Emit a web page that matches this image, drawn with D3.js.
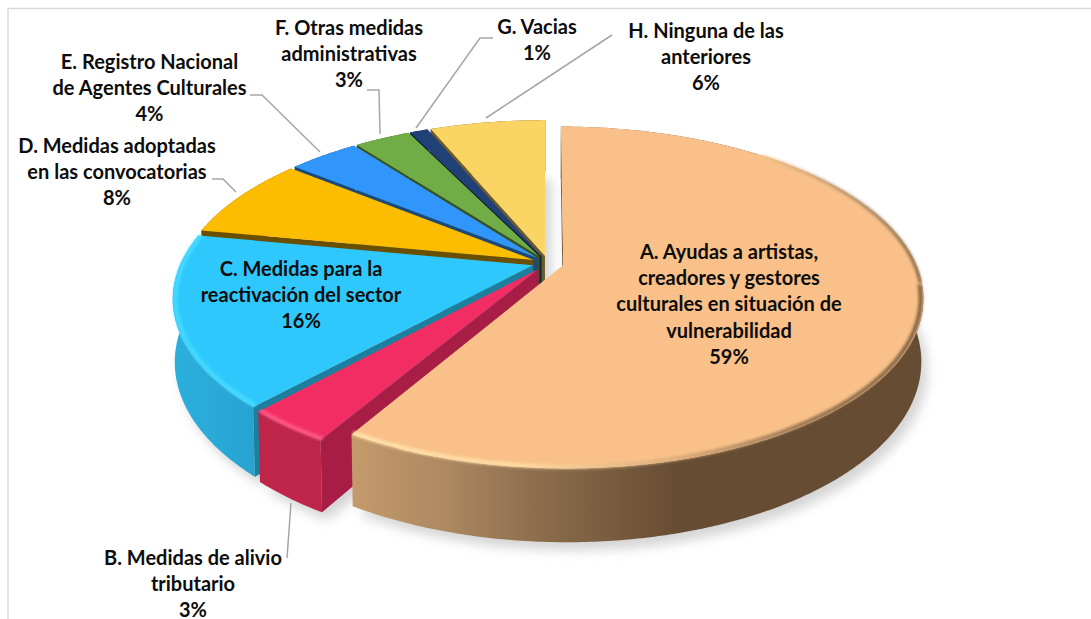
<!DOCTYPE html>
<html>
<head>
<meta charset="utf-8">
<script src="https://cdn.jsdelivr.net/npm/d3@7"></script>
<style>
  html, body { margin: 0; padding: 0; background: #fff; overflow: hidden; }
  text { font-family: Lato, "Open Sans", sans-serif; font-weight: 700; font-size: 20px; fill: #0d0d0d; text-anchor: middle; }
</style>
</head>
<body>
<div id="chart"></div>
<script>
    // category names, one array per wrapped label
    const categories = [
        ["A. Ayudas a artistas,", "creadores y gestores", "culturales en situación de", "vulnerabilidad"],
        ["B. Medidas de alivio", "tributario"],
        ["C. Medidas para la", "reactivación del sector"],
        ["D. Medidas adoptadas", "en las convocatorias"],
        ["E. Registro Nacional", "de Agentes Culturales"],
        ["F. Otras medidas", "administrativas"],
        ["G. Vacias"],
        ["H. Ninguna de las", "anteriores"]
    ];
    // estimated from the drawn slices, they round to the printed percentages
    const values = [58.5, 3.3, 16.2, 7.8, 3.85, 3.05, 1, 6.3];

    const topColors = ["#f9c189", "#f22d63", "#2fc8fd", "#fcbd00", "#3196fb", "#70ad47", "#1f4177", "#fbd563"];
    const cutColors = ["#7a5c3e", "#a81d45", "#1c7f9d", "#6b4f00", "#1b4a7a", "#37511f", "#101f3a", "#6b5a2a"];

    const labelX = [729, 193, 301, 117, 149.5, 349, 537, 706];
    const labelY = [252, 558, 269, 146, 62, 28, 27, 31];
    const lineGap = 26.2;

    const leaders = [
        [[287, 558], [291, 503]],
        [[212, 179], [223, 179], [236, 192]],
        [[250, 95], [262, 95], [320, 152]],
        [[367, 90], [379, 90], [380, 134]],
        [[493, 38], [480, 38], [416, 128]],
        [[612, 35], [486, 118]]
    ];

    const w = 1091;
    const h = 619;

    const cx = 548, cy = 263;
    const sx = 352, sy = 164, persp = 0.19, depth = 0.005, thick = 61, explode = 0.045;

    const svg = d3.select("#chart").append("svg")
        .attr("width", w)
        .attr("height", h);

    const defs = svg.append("defs");
    defs.append("filter").attr("id", "shadowBlur")
        .attr("x", "-10%").attr("y", "-10%").attr("width", "120%").attr("height", "120%")
        .append("feGaussianBlur").attr("stdDeviation", 6);
    defs.append("filter").attr("id", "rimBlur")
        .attr("x", "-5%").attr("y", "-5%").attr("width", "110%").attr("height", "110%")
        .append("feGaussianBlur").attr("stdDeviation", 1.6);

    function gradient(id, stops) {
        const g = defs.append("linearGradient").attr("id", id)
            .attr("gradientUnits", "userSpaceOnUse")
            .attr("x1", 0).attr("x2", w).attr("y1", 0).attr("y2", 0);
        stops.forEach(s => g.append("stop").attr("offset", s[0] / w).attr("stop-color", s[1]));
    }
    gradient("wall0", [[355, "#c49a6c"], [450, "#ac8760"], [530, "#8e6f4e"], [680, "#664c33"], [925, "#664c33"]]);
    gradient("wall1", [[255, "#bf2449"], [320, "#bf2449"], [335, "#a81d45"]]);
    gradient("wall2", [[170, "#2bb0dd"], [255, "#27a3d2"]]);
    gradient("rim0", [[355, "#ffe6ae"], [520, "#ffdca4"], [680, "#d8a878"], [800, "#8d6e4d"], [925, "#7a5c3e"]]);
    gradient("rim1", [[255, "#ff5a88"], [330, "#ff5a88"]]);
    gradient("rim2", [[170, "#46dcff"], [255, "#46dcff"]]);
    gradient("rimBack", [[760, "#f9c189"], [860, "#a98a68"], [925, "#7a5c3e"]]);

    function project(u, v, z) {
        const k = 1 - persp * v + depth * z;
        return [cx + sx * u / k, cy + (sy * v + thick * z) / k];
    }

    const pie = d3.pie().sort(null).value(d => d);
    const arcs = pie(values).map((a, i) => {
        const mid = (a.startAngle + a.endAngle) / 2;
        return { i, a0: a.startAngle, a1: a.endAngle, ox: explode * Math.sin(mid), oy: -explode * Math.cos(mid) };
    });

    const line = d3.line();
    const pt = (d, t, r, z) => project(d.ox + r * Math.sin(t), d.oy - r * Math.cos(t), z);

    function arcPoints(d, r, z) {
        const n = Math.max(4, Math.ceil((d.a1 - d.a0) / 0.01));
        return d3.range(n + 1).map(k => pt(d, d.a0 + (d.a1 - d.a0) * k / n, r, z));
    }

    // everything the pie sits on, blurred, for the soft shadow
    svg.append("g").attr("filter", "url(#shadowBlur)").attr("transform", "translate(6,8)")
        .selectAll("path").data(arcs).enter().append("path")
        .attr("d", d => line([pt(d, 0, 0, 1)].concat(arcPoints(d, 1, 1))) + "Z")
        .attr("fill", "#d4d4d4");

    // frame of the chart area
    svg.append("path")
        .attr("d", "M8,619V8.5H1091")
        .attr("fill", "none")
        .attr("stroke", "#d9d9d9")
        .attr("stroke-width", 1.5);

    // back slices first so the exploded front ones cover them
    const order = arcs.slice().reverse();

    const slices = svg.selectAll("g.slice")
        .data(order)
        .enter()
        .append("g")
        .attr("class", "slice");

    slices.append("path")
        .attr("d", d => line(arcPoints(d, 1, 0).concat(arcPoints(d, 1, 1).reverse())) + "Z")
        .attr("fill", d => d.i < 3 ? `url(#wall${d.i})` : cutColors[d.i]);

    slices.append("path")
        .attr("d", d => line([pt(d, d.a0, 0, 0), pt(d, d.a0, 1, 0), pt(d, d.a0, 1, 1), pt(d, d.a0, 0, 1)]) + "Z")
        .attr("fill", d => cutColors[d.i]);

    slices.append("path")
        .attr("d", d => line([pt(d, d.a0, 0, 0)].concat(arcPoints(d, 1, 0))) + "Z")
        .attr("fill", d => topColors[d.i]);

    // rounded rim on the slices facing the viewer
    slices.filter(d => d.i < 3).append("path")
        .attr("d", d => line(arcPoints(d, 0.993, 0).filter(p => d.i > 0 || p[1] > cy + 20)))
        .attr("fill", "none")
        .attr("stroke", d => `url(#rim${d.i})`)
        .attr("stroke-width", 4)
        .attr("filter", "url(#rimBlur)");

    slices.filter(d => d.i === 0).append("path")
        .attr("d", d => line(arcPoints(d, 0.996, 0).filter(p => p[1] <= cy + 21 && p[0] > 760)))
        .attr("fill", "none")
        .attr("stroke", "url(#rimBack)")
        .attr("stroke-width", 3)
        .attr("filter", "url(#rimBlur)");

    // labels
    const labels = svg.selectAll("g.label")
        .data(categories)
        .enter()
        .append("g")
        .attr("class", "label");

    labels.selectAll("text")
        .data((d, i) => d.concat(Math.round(values[i]) + "%").map(t => ({ t, i })))
        .enter()
        .append("text")
        .attr("x", d => labelX[d.i])
        .attr("y", (d, k) => labelY[d.i] + k * lineGap)
        .attr("dy", "0.35em")
        .text(d => d.t);

    svg.selectAll("path.leader")
        .data(leaders)
        .enter()
        .append("path")
        .attr("class", "leader")
        .attr("d", d => line(d))
        .attr("fill", "none")
        .attr("stroke", "#a6a6a6")
        .attr("stroke-width", 1.5);
</script>
</body>
</html>
